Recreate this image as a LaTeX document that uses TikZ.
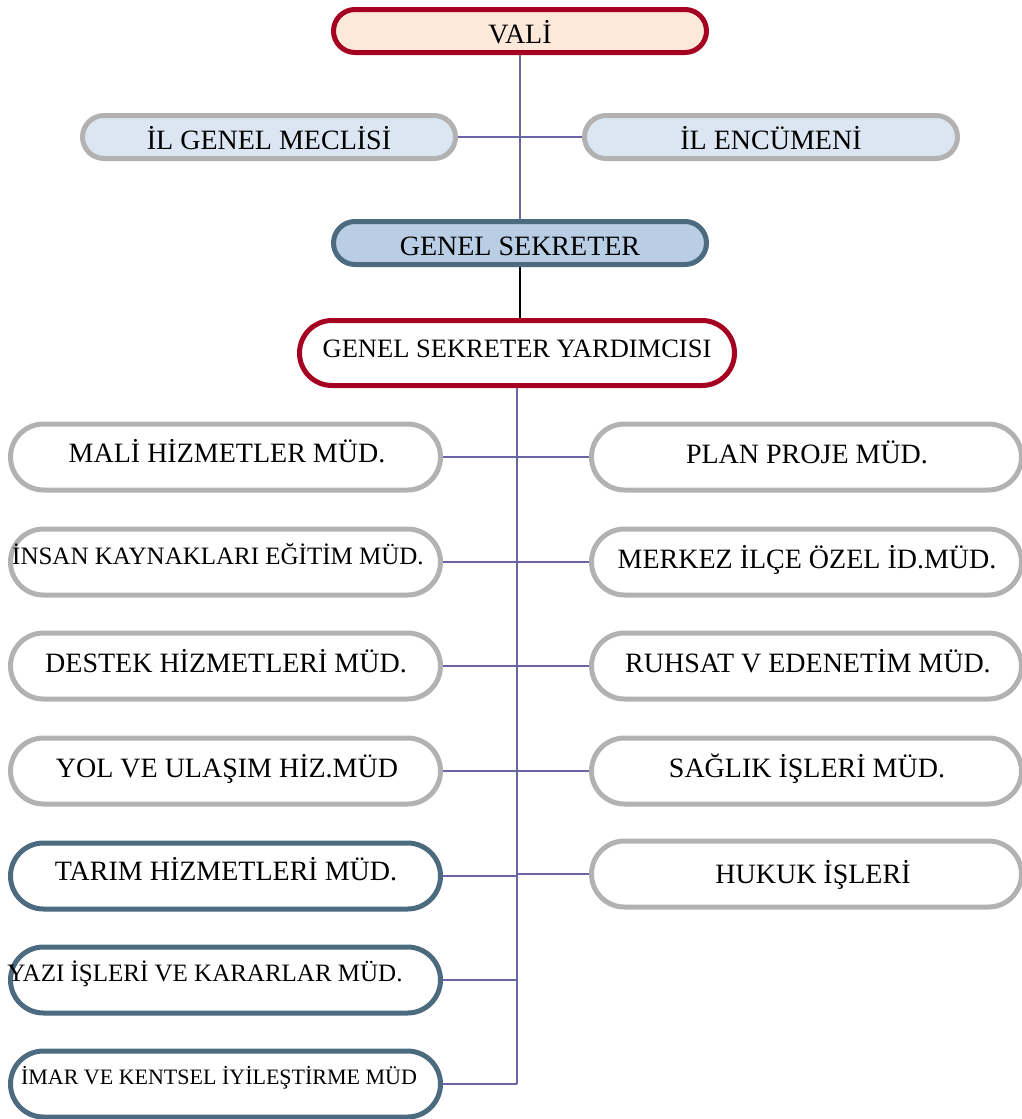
\documentclass[tikz,border=0pt]{standalone}
\usepackage{fontspec}
\setmainfont{Liberation Serif}

\definecolor{valired}{RGB}{165,0,33}
\definecolor{valifill}{RGB}{252,233,218}
\definecolor{boxgray}{RGB}{178,178,178}
\definecolor{meclisfill}{RGB}{220,230,242}
\definecolor{sekfill}{RGB}{185,205,229}
\definecolor{sekline}{RGB}{76,106,128}
\definecolor{linkcol}{RGB}{106,102,166}

\begin{document}
\begin{tikzpicture}[x=1pt,y=-1pt,
  topbox/.style={draw,line width=5pt,rounded corners=21.5pt,minimum width=373pt,minimum height=43pt,inner sep=0pt,
    font=\fontsize{28}{30}\selectfont,text height=25pt,text depth=1pt},
  unit/.style={draw,line width=5pt,rounded corners=33pt,minimum width=430pt,minimum height=66pt,inner sep=0pt},
  unittext/.style={anchor=base,inner sep=0pt},
  link/.style={linkcol,line width=1.6pt},
  trunk/.style={linkcol,line width=2.4pt}]

 \useasboundingbox (0,0) rectangle (1021,1119);

 \def\lx{225.5};
 \def\rx{806.5};

	%top
 \node[topbox,draw=valired,fill=valifill] (vali) at (520,31) {VALİ};
 \node[topbox,draw=boxgray,fill=meclisfill] (meclis) at (269,137) {İL GENEL MECLİSİ};
 \node[topbox,draw=boxgray,fill=meclisfill] (encumen) at (771,137) {İL ENCÜMENİ};
 \node[topbox,draw=sekline,fill=sekfill] (gs) at (520,243) {GENEL SEKRETER};
 \node[topbox,draw=valired,rounded corners=32.5pt,minimum width=435pt,minimum height=65pt,
       font=\fontsize{26.5}{28}\selectfont,text height=24pt,text depth=16pt] (yrd) at (517,353) {GENEL SEKRETER YARDIMCISI};

	%left column
    \foreach \y/\col/\sz/\tx/\b/\txt/\name in {
      457/boxgray/28/227/462/MALİ HİZMETLER MÜD./mali,
      562/boxgray/25/218/564/İNSAN KAYNAKLARI EĞİTİM MÜD./insan,
      666/boxgray/28/226/672/DESTEK HİZMETLERİ MÜD./destek,
      771/boxgray/28/227/777/YOL VE ULAŞIM HİZ.MÜD/yol,
      876/sekline/28/226/880/TARIM HİZMETLERİ MÜD./tarim,
      980/sekline/25/205/981/YAZI İŞLERİ VE KARARLAR MÜD./yazi,
      1084/sekline/22/219/1084/İMAR VE KENTSEL İYİLEŞTİRME MÜD/imar}{
         \node[unit,draw=\col] (\name) at (\lx,\y) {};
         \node[unittext,font=\fontsize{\sz}{\sz}\selectfont] (\name-t) at (\tx,\b) {\txt};
    }

	%right column
    \foreach \y/\tx/\b/\txt/\name in {
      457/807/463/PLAN PROJE MÜD./plan,
      562/807/568/MERKEZ İLÇE ÖZEL İD.MÜD./merkez,
      666/808/672/RUHSAT V EDENETİM MÜD./ruhsat,
      771/807/777/SAĞLIK İŞLERİ MÜD./saglik,
      874/813/883/HUKUK İŞLERİ/hukuk}{
         \node[unit,draw=boxgray] (\name) at (\rx,\y) {};
         \node[unittext,font=\fontsize{28}{28}\selectfont] (\name-t) at (\tx,\b) {\txt};
    }

	%lines
 \draw[trunk] (vali) -- (gs);
 \draw[link] (meclis) -- (encumen);
 \draw[black,line width=1.6pt] (gs.south) -- (gs.south |- yrd.north);
 \draw[trunk] (yrd.south) -- (yrd.south |- imar.east);
 \draw[link] (mali) -- (plan);
 \draw[link] (insan) -- (merkez);
 \draw[link] (destek) -- (ruhsat);
 \draw[link] (yol) -- (saglik);
 \draw[link] (tarim) -- (tarim -| yrd.south);
 \draw[link] (hukuk) -- (hukuk -| yrd.south);
 \draw[link] (yazi) -- (yazi -| yrd.south);
 \draw[link] (imar) -- (imar -| yrd.south);

\end{tikzpicture}
\end{document}
